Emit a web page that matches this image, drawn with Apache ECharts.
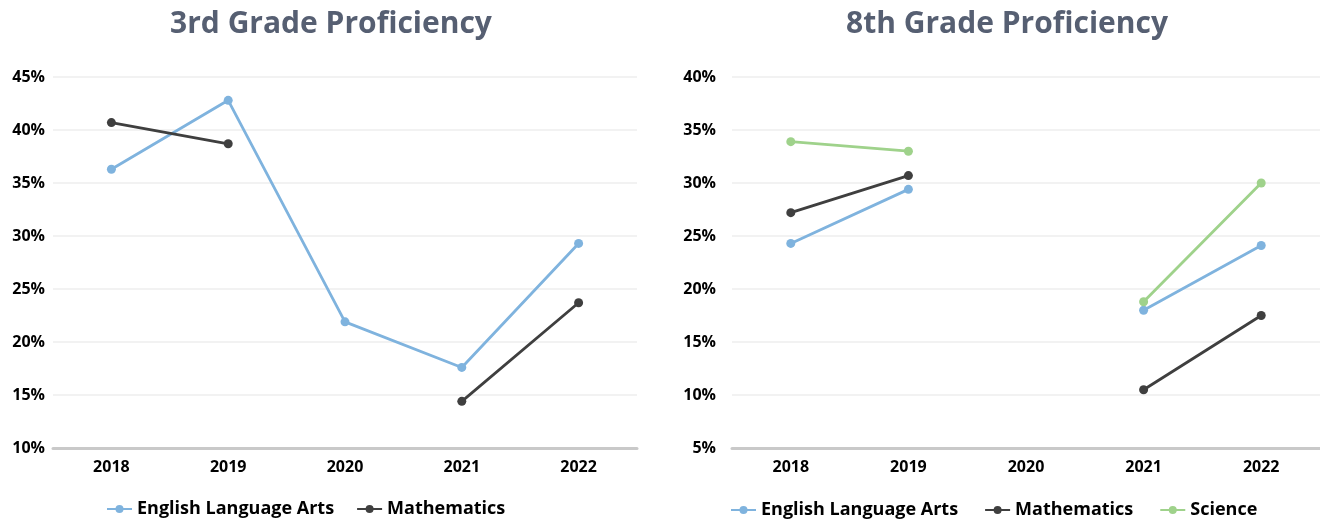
<!DOCTYPE html>
<html>
<head>
<meta charset="utf-8">
<script src="https://cdn.jsdelivr.net/npm/echarts@6/dist/echarts.min.js"></script>
<style>html,body{margin:0;padding:0;background:#fff}#c{width:1320px;height:521px}</style>
</head>
<body>
<div id="c"></div>
<script>
const years = ['2018', '2019', '2020', '2021', '2022'];
const g3Ela = [36.3, 42.8, 21.9, 17.6, 29.3];
const g3Math = [40.7, 38.7, null, 14.4, 23.7];
const g8Ela = [24.3, 29.4, null, 18.0, 24.1];
const g8Math = [27.2, 30.7, null, 10.5, 17.5];
const g8Sci = [33.9, 33.0, null, 18.8, 30.0];
const titles = ['3rd Grade Proficiency', '8th Grade Proficiency'];

const C_ELA = '#7fb3de', C_MATH = '#3f3f3f', C_SCI = '#9fd28b';
const FONT = '"Open Sans", sans-serif';
const chart = echarts.init(document.getElementById('c'), null, {renderer: 'canvas'});

function yAxis(idx, min, max) {
  return {
    gridIndex: idx, type: 'value', min: min, max: max, interval: 5,
    axisLabel: {formatter: '{value}%', color: '#000', fontFamily: FONT, fontWeight: 'bold', fontSize: 16, margin: idx === 0 ? 8 : 16},
    axisLine: {show: false}, axisTick: {show: false},
    splitLine: {lineStyle: {color: '#f2f2f2', width: 2}}
  };
}
function xAxis(idx) {
  return {
    gridIndex: idx, type: 'category', data: years, boundaryGap: true,
    axisLabel: {color: '#000', fontFamily: FONT, fontWeight: 'bold', fontSize: 16, margin: 11},
    axisLine: {lineStyle: {color: '#c9c9c9', width: 3}}, axisTick: {show: false}
  };
}
function line(name, data, color, idx) {
  return {
    name: name, type: 'line', data: data, xAxisIndex: idx, yAxisIndex: idx,
    connectNulls: false, symbol: 'circle', symbolSize: 9,
    lineStyle: {color: color, width: 2.8}, itemStyle: {color: color},
    emphasis: {disabled: true}
  };
}
const legendText = {color: '#000', fontFamily: FONT, fontWeight: 'bold', fontSize: 18};

chart.setOption({
  animation: false,
  title: [
    {text: titles[0], left: 326, top: 4, textAlign: 'center', textStyle: {color: '#565f72', fontFamily: FONT, fontWeight: 'bold', fontSize: 30}},
    {text: titles[1], left: 1002, top: 4, textAlign: 'center', textStyle: {color: '#565f72', fontFamily: FONT, fontWeight: 'bold', fontSize: 30}}
  ],
  grid: [
    {left: 53, right: 683, top: 77, bottom: 73},
    {left: 732, right: 0, top: 77, bottom: 73}
  ],
  xAxis: [xAxis(0), xAxis(1)],
  yAxis: [yAxis(0, 10, 45), yAxis(1, 5, 40)],
  legend: [
    {data: ['English Language Arts', 'Mathematics'], left: 101, top: 495, itemWidth: 25, itemHeight: 10, itemGap: 22, textStyle: legendText},
    {data: ['English Language Arts', 'Mathematics', 'Science'], left: 725, top: 496, itemWidth: 25, itemHeight: 10, itemGap: 26, textStyle: legendText}
  ],
  series: [
    line('English Language Arts', g3Ela, C_ELA, 0),
    line('Mathematics', g3Math, C_MATH, 0),
    line('English Language Arts', g8Ela, C_ELA, 1),
    line('Mathematics', g8Math, C_MATH, 1),
    line('Science', g8Sci, C_SCI, 1)
  ]
});
</script>
</body>
</html>
